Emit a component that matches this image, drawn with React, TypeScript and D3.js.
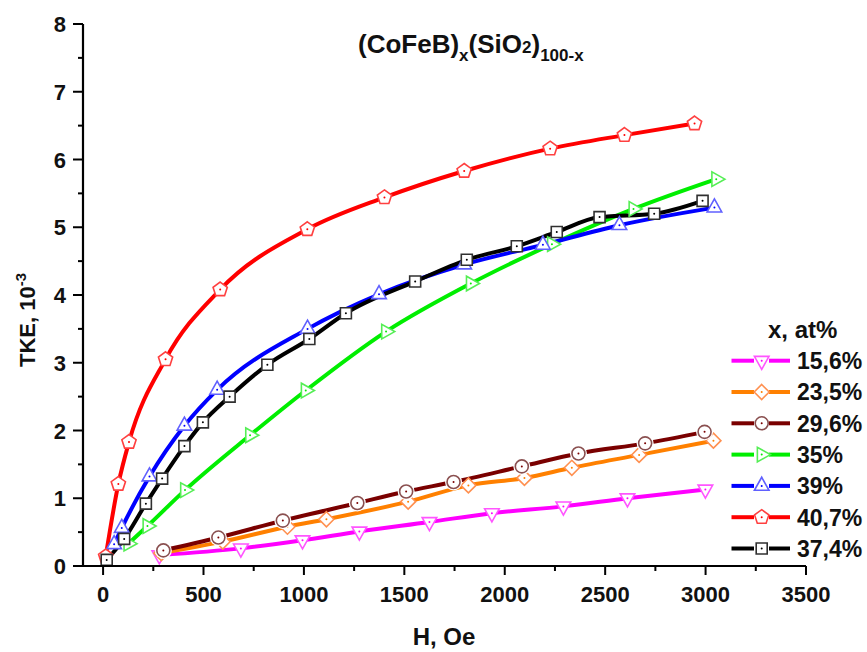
import React from "react";
import * as d3 from "d3";

const xTicks = [0, 500, 1000, 1500, 2000, 2500, 3000, 3500];
const yTicks = [0, 1, 2, 3, 4, 5, 6, 7, 8];

const h156 = [280, 686, 993, 1276, 1625, 1936, 2292, 2611, 2999];
const v156 = [0.16, 0.26, 0.38, 0.51, 0.65, 0.78, 0.88, 1.0, 1.13];

const h235 = [290, 596, 918, 1112, 1519, 1819, 2098, 2334, 2669, 3039];
const v235 = [0.19, 0.36, 0.58, 0.69, 0.95, 1.19, 1.3, 1.45, 1.64, 1.85];

const h296 = [300, 574, 895, 1266, 1509, 1745, 2085, 2367, 2699, 2995];
const v296 = [0.23, 0.42, 0.67, 0.93, 1.1, 1.24, 1.47, 1.66, 1.81, 1.98];

const h35 = [126, 221, 408, 732, 1009, 1409, 1831, 2235, 2641, 3053];
const v35 = [0.33, 0.59, 1.12, 1.93, 2.59, 3.46, 4.17, 4.75, 5.27, 5.71];

const h39 = [55, 93, 231, 405, 568, 1018, 1374, 1798, 2190, 2571, 3044];
const v39 = [0.32, 0.56, 1.32, 2.07, 2.6, 3.5, 4.01, 4.45, 4.74, 5.03, 5.29];

const h407 = [13, 76, 129, 311, 583, 1017, 1401, 1798, 2226, 2596, 2945];
const v407 = [0.14, 1.21, 1.83, 3.05, 4.08, 4.97, 5.44, 5.83, 6.16, 6.36, 6.53];

const h374 = [18, 105, 213, 294, 405, 497, 630, 818, 1027, 1209, 1554, 1811, 2060, 2259, 2472, 2744, 2985];
const v374 = [0.09, 0.4, 0.92, 1.29, 1.77, 2.12, 2.5, 2.97, 3.35, 3.73, 4.2, 4.52, 4.72, 4.93, 5.15, 5.2, 5.39];

const seriesNames = ["15,6%", "23,5%", "29,6%", "35%", "39%", "40,7%", "37,4%"];

type Series = {
  name: string;
  h: number[];
  v: number[];
  line: string;
  mark: string;
  shape: string;
  gap?: boolean;
};

const series: Series[] = [
  { name: seriesNames[0], h: h156, v: v156, line: "#ff00ff", mark: "#ff55ff", shape: "tdown" },
  { name: seriesNames[1], h: h235, v: v235, line: "#ff8000", mark: "#ff9050", shape: "diamond" },
  { name: seriesNames[2], h: h296, v: v296, line: "#7a0000", mark: "#8a5050", shape: "circle", gap: true },
  { name: seriesNames[3], h: h35, v: v35, line: "#00ee00", mark: "#55ee55", shape: "tright" },
  { name: seriesNames[4], h: h39, v: v39, line: "#0000ff", mark: "#6060ff", shape: "tup" },
  { name: seriesNames[5], h: h407, v: v407, line: "#ff0000", mark: "#ff4040", shape: "pentagon" },
  { name: seriesNames[6], h: h374, v: v374, line: "#000000", mark: "#303030", shape: "square" },
];

const FONT = "Arial, 'Liberation Sans', sans-serif";

function shapePath(shape: string): string {
  const th = 13;
  const hw = 7.3;
  switch (shape) {
    case "tdown":
      return `M${-hw},${-th / 3}L${hw},${-th / 3}L0,${(2 * th) / 3}Z`;
    case "tup":
      return `M${-hw},${th / 3}L${hw},${th / 3}L0,${(-2 * th) / 3}Z`;
    case "tright":
      return `M${-th / 3},${-hw}L${-th / 3},${hw}L${(2 * th) / 3},0Z`;
    case "diamond":
      return "M0,-7.5L7.5,0L0,7.5L-7.5,0Z";
    case "square":
      return "M-5.5,-5.5L5.5,-5.5L5.5,5.5L-5.5,5.5Z";
    case "pentagon": {
      const r = 7.5;
      const pts = d3.range(5).map((i) => {
        const a = -Math.PI / 2 + (i * 2 * Math.PI) / 5;
        return [r * Math.cos(a), r * Math.sin(a)];
      });
      return "M" + pts.map((p) => p[0].toFixed(2) + "," + p[1].toFixed(2)).join("L") + "Z";
    }
    default:
      return "";
  }
}

function Marker({ x, y, s }: { x: number; y: number; s: Series }) {
  return (
    <g transform={`translate(${x},${y})`}>
      {s.gap && <circle r={8.5} fill="#fff" />}
      {s.shape === "circle" ? (
        <circle r={6.5} fill="#fff" stroke={s.mark} strokeWidth={1.6} />
      ) : (
        <path d={shapePath(s.shape)} fill="#fff" stroke={s.mark} strokeWidth={1.6} strokeLinejoin="miter" />
      )}
      <circle r={1} fill={s.line} />
    </g>
  );
}

export default function App() {
  const W = 867;
  const H = 652;
  const x = d3.scaleLinear().domain([-100, 3500]).range([83, 806]);
  const y = d3.scaleLinear().domain([0, 8]).range([566, 24]);
  const xMinor = d3.range(250, 3500, 500);
  const yMinor = d3.range(0.5, 8, 1);

  const lineGen = d3
    .line<[number, number]>()
    .x((d) => x(d[0]))
    .y((d) => y(d[1]))
    .curve(d3.curveMonotoneX);

  const legX = 731.5;
  const legY0 = 360.7;
  const legDy = 31.3;

  return (
    <svg width={W} height={H} style={{ position: "absolute", left: 0, top: 0 }} fontFamily={FONT}>
      <rect width={W} height={H} fill="#fff" />
      {/* lines */}
      {series.map((s) => (
        <path
          key={"l" + s.name}
          d={lineGen(s.h.map((h, i) => [h, s.v[i]] as [number, number])) || ""}
          fill="none"
          stroke={s.line}
          strokeWidth={4}
          strokeLinejoin="round"
        />
      ))}
      {/* markers */}
      {series.map((s) => (
        <g key={"m" + s.name}>
          {s.h.map((h, i) => (
            <Marker key={i} x={x(h)} y={y(s.v[i])} s={s} />
          ))}
        </g>
      ))}
      {/* axes */}
      <line x1={83} x2={83} y1={y(8)} y2={y(0) + 1} stroke="#000" strokeWidth={2.2} />
      <line x1={82} x2={x(3500)} y1={y(0)} y2={y(0)} stroke="#000" strokeWidth={2.2} />
      {yTicks.map((t) => (
        <g key={"yt" + t}>
          <line x1={73} x2={83} y1={y(t)} y2={y(t)} stroke="#000" strokeWidth={2} />
          <text x={66} y={y(t) + 8} textAnchor="end" fontSize={22} fontWeight="bold" fill="#111">
            {t}
          </text>
        </g>
      ))}
      {yMinor.map((t) => (
        <line key={"ym" + t} x1={78} x2={83} y1={y(t)} y2={y(t)} stroke="#000" strokeWidth={2} />
      ))}
      {xTicks.map((t) => (
        <g key={"xt" + t}>
          <line x1={x(t)} x2={x(t)} y1={566} y2={575} stroke="#000" strokeWidth={2} />
          <text x={x(t)} y={601.5} textAnchor="middle" fontSize={22} fontWeight="bold" fill="#111">
            {t}
          </text>
        </g>
      ))}
      {xMinor.map((t) => (
        <line key={"xm" + t} x1={x(t)} x2={x(t)} y1={566} y2={571} stroke="#000" strokeWidth={2} />
      ))}
      {/* axis titles */}
      <text x={444} y={645} textAnchor="middle" fontSize={24} fontWeight="bold" fill="#111">
        H, Oe
      </text>
      <text transform="translate(35,367) rotate(-90)" textAnchor="start" fontSize={22} fontWeight="bold" fill="#111">
        TKE, 10
        <tspan dy={-9} fontSize={15}>
          -3
        </tspan>
      </text>
      {/* title */}
      <text x={358} y={53} fontSize={26} fontWeight="bold" fill="#111">
        (CoFeB)
        <tspan dy={8} fontSize={17}>
          x
        </tspan>
        <tspan dy={-8}>(SiO</tspan>
        <tspan fontSize={17}>2</tspan>
        <tspan>)</tspan>
        <tspan dy={8} fontSize={17}>
          100-x
        </tspan>
      </text>
      {/* legend */}
      <text x={768} y={338} fontSize={24} fontWeight="bold" fill="#111">
        x, at%
      </text>
      {series.map((s, i) => {
        const cy = legY0 + i * legDy;
        return (
          <g key={"lg" + s.name}>
            <line x1={legX} x2={754} y1={cy} y2={cy} stroke={s.line} strokeWidth={4} />
            <line x1={769} x2={790} y1={cy} y2={cy} stroke={s.line} strokeWidth={4} />
            <Marker x={761.7} y={cy} s={{ ...s, gap: false }} />
            <text x={797} y={cy + 8.3} fontSize={23} fontWeight="bold" fill="#111">
              {s.name}
            </text>
          </g>
        );
      })}
    </svg>
  );
}
